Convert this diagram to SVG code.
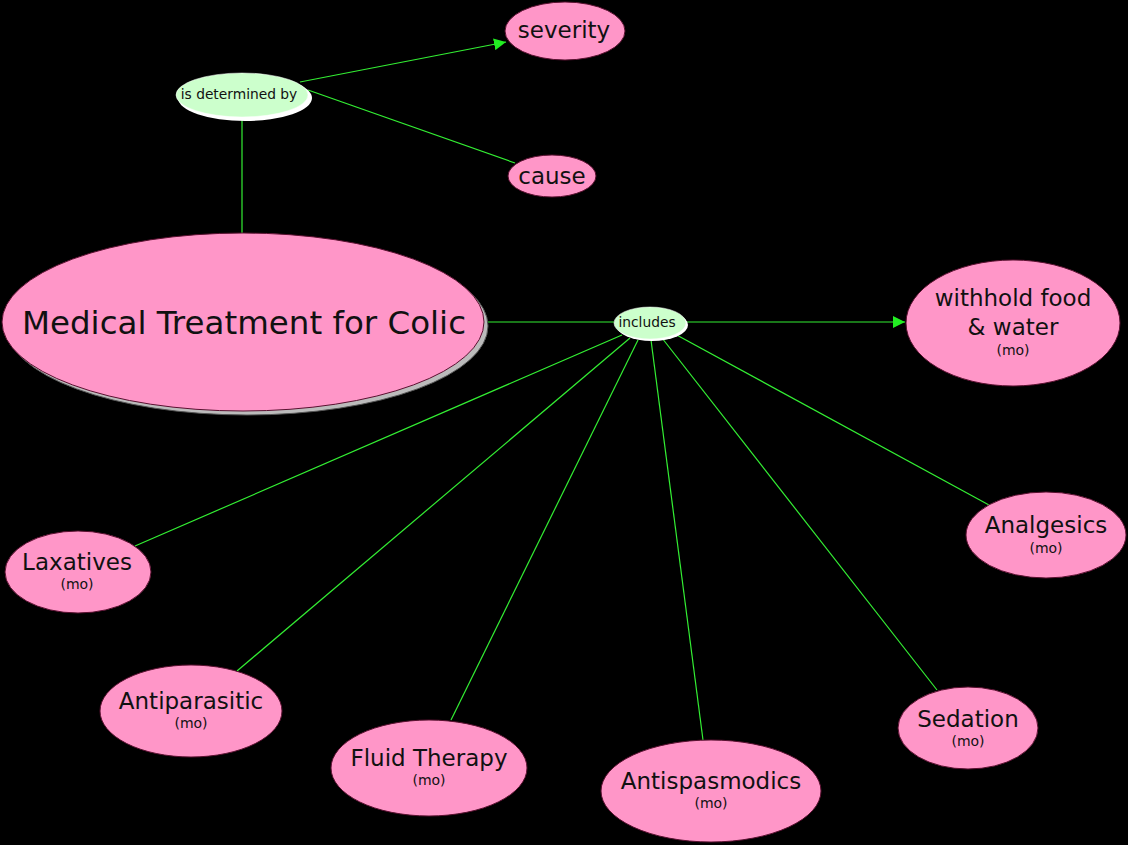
<svg xmlns="http://www.w3.org/2000/svg" width="1128" height="845" viewBox="0 0 1128 845">
<style>
.bg{fill:#000}
.c{fill:#ff96c8;stroke:#5a1030;stroke-width:1}
.lp{fill:#ccffcc;stroke:#ffffff;stroke-width:0.5}
.lps{fill:#ffffff}
.sh{fill:#bbbbbb;stroke:#555;stroke-width:1}
.e{stroke:#33ee33;stroke-width:1.2;fill:none}
text{font-family:"DejaVu Sans","Verdana",sans-serif;fill:#111;text-anchor:middle}
.t{font-size:23px}
.m{font-size:14px}
.l{font-size:13.8px}
</style>
<defs>
<marker id="ah" viewBox="0 0 10 10" refX="10" refY="5" markerWidth="12" markerHeight="12" markerUnits="userSpaceOnUse" orient="auto">
<path d="M0,0 L10,5 L0,10 z" fill="#22ee22"/>
</marker>
</defs>
<rect class="bg" x="0" y="0" width="1128" height="845"/>
<g id="connectors">
<line class="e" x1="242" y1="120" x2="242" y2="233"/>
<line class="e" x1="300" y1="82" x2="506" y2="42" marker-end="url(#ah)"/>
<line class="e" x1="308" y1="90" x2="515" y2="163"/>
<line class="e" x1="487" y1="322" x2="614" y2="322"/>
<line class="e" x1="686" y1="322" x2="905" y2="322" marker-end="url(#ah)"/>
<line class="e" x1="622" y1="335" x2="135" y2="546"/>
<line class="e" x1="630" y1="338" x2="237" y2="671"/>
<line class="e" x1="638" y1="340" x2="451" y2="720"/>
<line class="e" x1="651" y1="340" x2="703" y2="740"/>
<line class="e" x1="662" y1="338" x2="937" y2="690"/>
<line class="e" x1="673" y1="333" x2="989" y2="505"/>
</g>
<g id="main">
<ellipse class="sh" cx="247" cy="326" rx="241" ry="89"/>
<ellipse class="c" cx="243" cy="322" rx="241" ry="89"/>
<text x="244" y="334" style="font-size:32.5px">Medical Treatment for Colic</text>
</g>
<g id="is-determined-by">
<ellipse class="lps" cx="245" cy="98" rx="67" ry="23"/>
<ellipse class="lp" cx="242" cy="95" rx="66" ry="22"/>
<text class="l" x="239" y="99">is determined by</text>
</g>
<g id="severity">
<ellipse class="c" cx="565" cy="31" rx="60" ry="29"/>
<text class="t" x="564" y="38">severity</text>
</g>
<g id="cause">
<ellipse class="c" cx="552" cy="176" rx="44" ry="21"/>
<text class="t" x="552" y="184">cause</text>
</g>
<g id="includes">
<ellipse class="lps" cx="652" cy="325" rx="36" ry="16"/>
<ellipse class="lp" cx="650" cy="323" rx="36" ry="16"/>
<text class="l" x="647" y="327">includes</text>
</g>
<g id="withhold">
<ellipse class="c" cx="1013" cy="323" rx="107" ry="63"/>
<text class="t" x="1013" y="306">withhold food</text>
<text class="t" x="1013" y="335">&amp; water</text>
<text class="m" x="1013" y="355">(mo)</text>
</g>
<g id="analgesics">
<ellipse class="c" cx="1046" cy="535" rx="80" ry="43"/>
<text class="t" x="1046" y="533">Analgesics</text>
<text class="m" x="1046" y="553">(mo)</text>
</g>
<g id="laxatives">
<ellipse class="c" cx="78" cy="572" rx="73" ry="41"/>
<text class="t" x="77" y="570">Laxatives</text>
<text class="m" x="77" y="589">(mo)</text>
</g>
<g id="antiparasitic">
<ellipse class="c" cx="191" cy="711" rx="91" ry="46"/>
<text class="t" x="191" y="709">Antiparasitic</text>
<text class="m" x="191" y="728">(mo)</text>
</g>
<g id="fluid-therapy">
<ellipse class="c" cx="429" cy="768" rx="98" ry="48"/>
<text class="t" x="429" y="766">Fluid Therapy</text>
<text class="m" x="429" y="785">(mo)</text>
</g>
<g id="antispasmodics">
<ellipse class="c" cx="711" cy="791" rx="110" ry="51"/>
<text class="t" x="711" y="789">Antispasmodics</text>
<text class="m" x="711" y="808">(mo)</text>
</g>
<g id="sedation">
<ellipse class="c" cx="968" cy="728" rx="70" ry="41"/>
<text class="t" x="968" y="727">Sedation</text>
<text class="m" x="968" y="746">(mo)</text>
</g>
</svg>
